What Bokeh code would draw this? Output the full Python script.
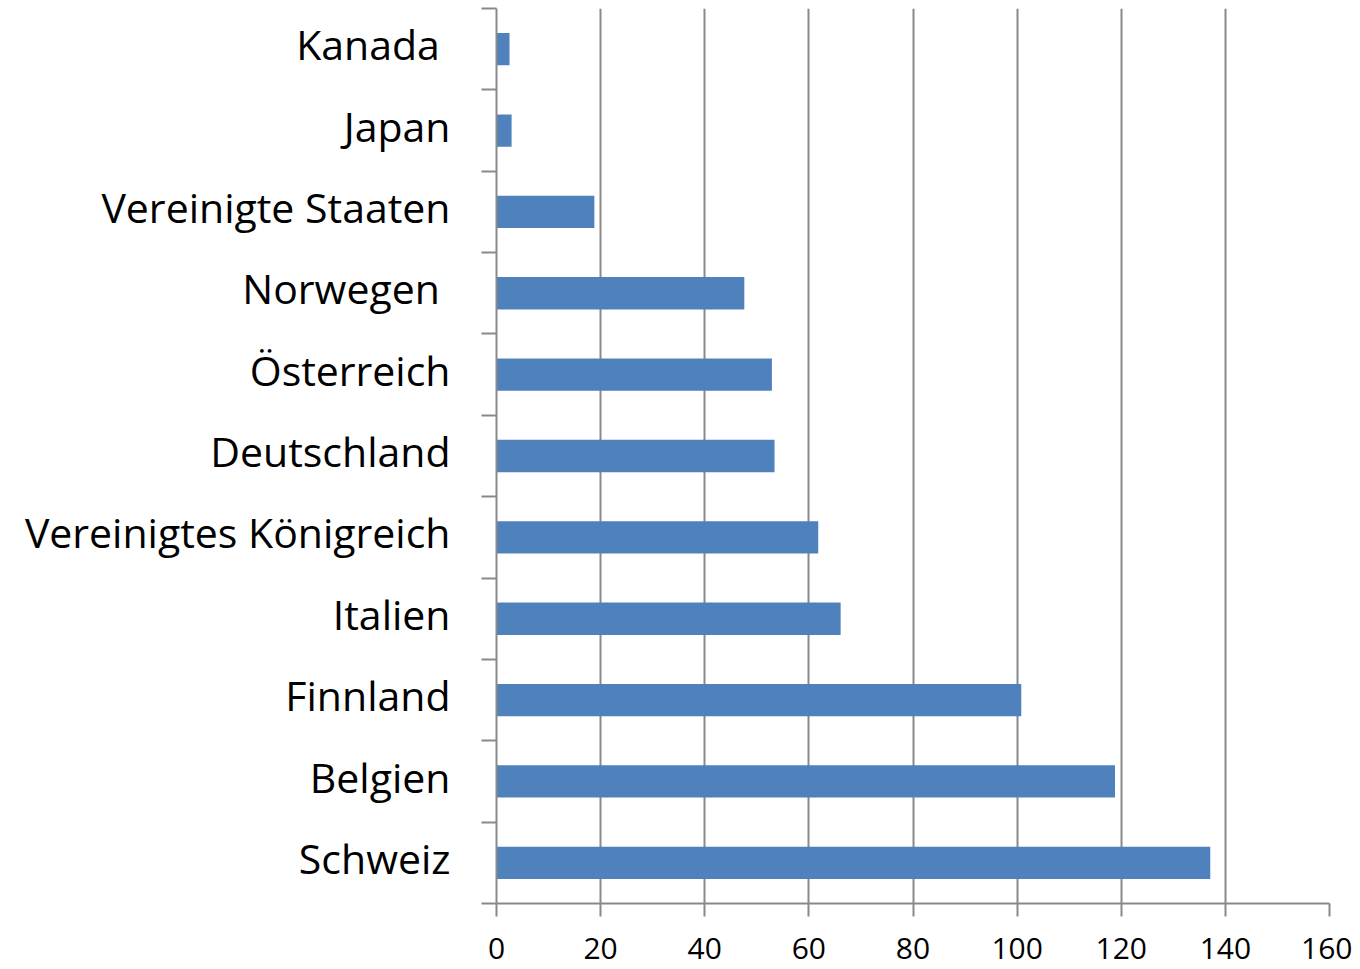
from bokeh.plotting import figure
from bokeh.models import Range1d, FixedTicker
from bokeh.embed import file_html
from bokeh.resources import INLINE

# Data (top to bottom in the chart)
countries = ["Kanada ", "Japan", "Vereinigte Staaten", "Norwegen ", "Österreich",
             "Deutschland", "Vereinigtes Königreich", "Italien", "Finnland",
             "Belgien", "Schweiz"]
values = [2.5, 2.9, 18.8, 47.6, 52.9, 53.4, 61.8, 66.1, 100.8, 118.8, 137.1]
x_ticks = [0, 20, 40, 60, 80, 100, 120, 140, 160]

n = len(countries)
# position index: bottom category (Schweiz) at 0.5
ypos = [n - 1 - i + 0.5 for i in range(n)]
LABEL_SHIFT = 0.06  # labels sit slightly above band centre
label_pos = [y + LABEL_SHIFT for y in ypos]

GRAY = "#898989"
BLUE = "#4F81BD"

p = figure(width=1352, height=969, output_backend="svg", toolbar_location=None,
           x_range=Range1d(0, 160), y_range=Range1d(0, n),
           x_axis_location="below", y_axis_location="left",
           min_border_left=496, min_border_right=23, min_border_top=8,
           min_border_bottom=66)
p.outline_line_color = None
p.background_fill_color = "white"
p.border_fill_color = "white"

p.hbar(y=ypos, right=values, left=0, height=0.397, fill_color=BLUE, line_color=None)

# x axis
xa = p.xaxis[0]
xa.ticker = FixedTicker(ticks=x_ticks, minor_ticks=[])
xa.axis_line_color = GRAY
xa.axis_line_width = 2
xa.major_tick_line_color = GRAY
xa.major_tick_line_width = 2
xa.major_tick_out = 13
xa.major_tick_in = 0
xa.minor_tick_line_color = None
xa.major_label_text_font = "Open Sans"
xa.major_label_text_font_size = "30px"
xa.major_label_text_color = "black"
xa.major_label_standoff = 21

# y axis
ya = p.yaxis[0]
ya.ticker = FixedTicker(ticks=label_pos, minor_ticks=list(range(n + 1)))
ya.major_label_overrides = {y: c for y, c in zip(label_pos, countries)}
ya.axis_line_color = GRAY
ya.axis_line_width = 2
ya.major_tick_line_color = None
ya.major_tick_out = 0
ya.major_tick_in = 0
ya.minor_tick_line_color = GRAY
ya.minor_tick_line_width = 2
ya.minor_tick_out = 15
ya.minor_tick_in = 0
ya.major_label_text_font = "Open Sans"
ya.major_label_text_font_size = "41px"
ya.major_label_text_color = "black"
ya.major_label_standoff = 31

p.xgrid.ticker = FixedTicker(ticks=x_ticks)
p.xgrid.grid_line_color = GRAY
p.xgrid.grid_line_width = 2
p.ygrid.grid_line_color = None

open("out.html", "w").write(file_html(p, INLINE))
